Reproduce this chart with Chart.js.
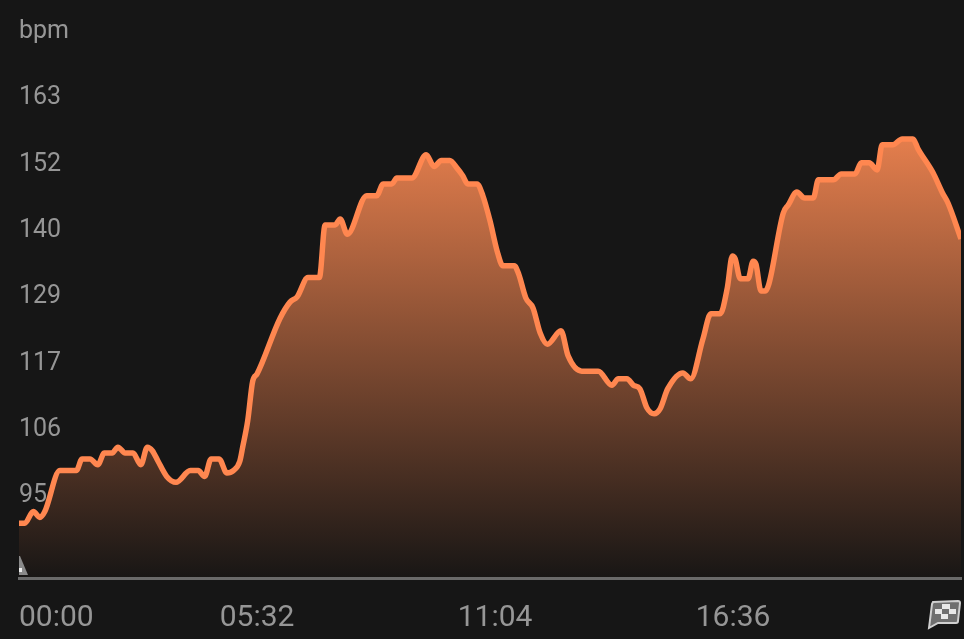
<!DOCTYPE html>
<html>
<head>
<meta charset="utf-8">
<style>
  html, body { margin: 0; padding: 0; background: #161616; }
  canvas { display: block; }
</style>
<script src="https://cdn.jsdelivr.net/npm/chart.js@4"></script>
</head>
<body>
<canvas id="hrChart" width="964" height="639"></canvas>
<script>
const seconds = [0, 8, 20, 29, 36, 57, 80, 88, 99, 110, 119, 130, 138, 148, 159, 170, 179, 186, 194, 206,
  219, 239, 250, 259, 268, 279, 290, 299, 308, 312, 319, 326, 332, 364, 378, 388, 403, 419, 427, 441,
  448, 458, 485, 499, 508, 520, 527, 548, 568, 579, 589, 601, 611, 619, 626, 639, 647, 657, 667, 675,
  691, 697, 707, 717, 727, 737, 756, 766, 785, 808, 827, 836, 848, 857, 866, 876, 886, 894, 905, 926,
  937, 954, 965, 978, 988, 995, 999, 1006, 1017, 1024, 1028, 1035, 1041, 1046, 1066, 1073, 1085, 1096, 1108, 1115,
  1136, 1147, 1166, 1175, 1186, 1197, 1204, 1219, 1232, 1247, 1254, 1275, 1288, 1296, 1314];
const bpm = [90, 90, 92, 91, 92, 99, 99, 101, 101, 100, 102, 102, 103, 102, 102, 100, 103, 102.4, 100.6, 98,
  97, 99, 99, 98, 101, 101, 98.6, 99, 100.6, 103, 107.5, 114.3, 115.5, 125, 127.8, 128.7, 132, 132, 141, 141,
  142, 139.4, 146, 146, 148, 148, 149, 149, 153, 151, 152, 152, 150.7, 149.4, 148, 148, 146, 141.7, 136.5, 134,
  134, 132.6, 128.5, 126.8, 122.5, 120.6, 122.9, 118.6, 116, 116, 113.6, 114.7, 114.7, 113.6, 113, 109.7, 108.7, 109.5, 113, 115.7,
  114.7, 121.5, 125.8, 125.8, 130.2, 135.7, 135.2, 131.8, 131.8, 134.8, 134.3, 129.7, 129.7, 130.9, 143, 144.4, 146.6, 145.6, 145.6, 148.7,
  148.7, 149.7, 149.7, 151.6, 151.6, 150.4, 154.7, 154.7, 155.7, 155.7, 154, 149.9, 146.5, 144.7, 138.6];
const xTickValues = [0, 332, 664, 996, 1314];
const xTickLabels = ['00:00', '05:32', '11:04', '16:36', ''];
const yTickValues = [95, 106.33, 117.67, 129, 140.33, 151.67, 163, 174.33];
const yTickLabels = ['95', '106', '117', '129', '140', '152', '163', 'bpm'];

const GREY = '#969696';

// small marks the app draws on top of the axis: start triangle and finish flag
const markers = {
  id: 'markers',
  afterDraw(chart) {
    const c = chart.ctx;
    const { left, right, bottom } = chart.chartArea;
    c.save();
    c.fillStyle = '#8a8a8a';
    c.beginPath();
    c.moveTo(left, bottom - 22);
    c.lineTo(left + 1, bottom - 22);
    c.lineTo(left + 9, bottom - 3);
    c.lineTo(left, bottom - 3);
    c.closePath();
    c.fill();
    c.fillStyle = '#eeeeee';
    c.fillRect(left, bottom - 10, 3, 4);

    const x = right - 33, y = 600;
    c.beginPath();
    c.moveTo(x + 5, y + 2);
    c.lineTo(x + 30, y + 1);
    c.quadraticCurveTo(x + 32, y + 1, x + 32, y + 3);
    c.lineTo(x + 30, y + 21);
    c.quadraticCurveTo(x + 30, y + 23, x + 28, y + 23);
    c.lineTo(x + 10, y + 23);
    c.lineTo(x + 1, y + 28);
    c.lineTo(x + 4, y + 4);
    c.closePath();
    c.fillStyle = '#6f6f6f';
    c.fill();
    c.lineWidth = 2;
    c.strokeStyle = '#d0d0d0';
    c.stroke();
    c.fillStyle = '#e8e8e8';
    c.fillRect(x + 14, y + 4, 8, 5);
    c.fillRect(x + 7, y + 9, 7, 5);
    c.fillRect(x + 21, y + 9, 7, 5);
    c.fillRect(x + 13, y + 14, 7, 5);
    c.restore();
  }
};

new Chart(document.getElementById('hrChart'), {
  type: 'line',
  data: {
    datasets: [{
      data: seconds.map((s, i) => ({ x: s, y: bpm[i] })),
      borderColor: '#ff8750',
      borderWidth: 5.5,
      pointRadius: 0,
      cubicInterpolationMode: 'monotone',
      fill: 'start',
      backgroundColor(ctx) {
        const area = ctx.chart.chartArea;
        if (!area) return 'transparent';
        const g = ctx.chart.ctx.createLinearGradient(0, 130, 0, area.bottom);
        g.addColorStop(0, 'rgb(232,128,78)');
        g.addColorStop(1, 'rgb(24,22,21)');
        return g;
      }
    }]
  },
  plugins: [markers],
  options: {
    responsive: false,
    animation: false,
    layout: { padding: { left: 19, right: 3, top: 0, bottom: 0 } },
    plugins: { legend: { display: false }, tooltip: { enabled: false } },
    scales: {
      x: {
        type: 'linear',
        min: 0,
        max: 1314,
        afterBuildTicks(axis) { axis.ticks = xTickValues.map(v => ({ value: v })); },
        afterFit(axis) {
          axis.height = 61;
          axis.paddingLeft = 0;
          axis.paddingRight = 0;
        },
        grid: { display: false },
        border: { color: '#6a6a6a', width: 3, z: 1 },
        ticks: {
          align: 'inner',
          autoSkip: false,
          maxRotation: 0,
          padding: 14,
          color: GREY,
          font: { family: 'Roboto', size: 30 },
          callback: (v) => xTickLabels[xTickValues.indexOf(v)]
        }
      },
      y: {
        min: 80.64,
        max: 179.44,
        afterBuildTicks(axis) { axis.ticks = yTickValues.map(v => ({ value: v })); },
        afterFit(axis) {
          axis.width = 0;
          axis.paddingTop = 0;
          axis.paddingBottom = 0;
        },
        grid: { display: false },
        border: { display: false },
        ticks: {
          mirror: true,
          padding: 0,
          labelOffset: 2,
          autoSkip: false,
          color: GREY,
          font: { family: 'Roboto', size: 25 },
          callback: (v) => yTickLabels[yTickValues.indexOf(v)]
        }
      }
    }
  }
});
</script>
</body>
</html>
